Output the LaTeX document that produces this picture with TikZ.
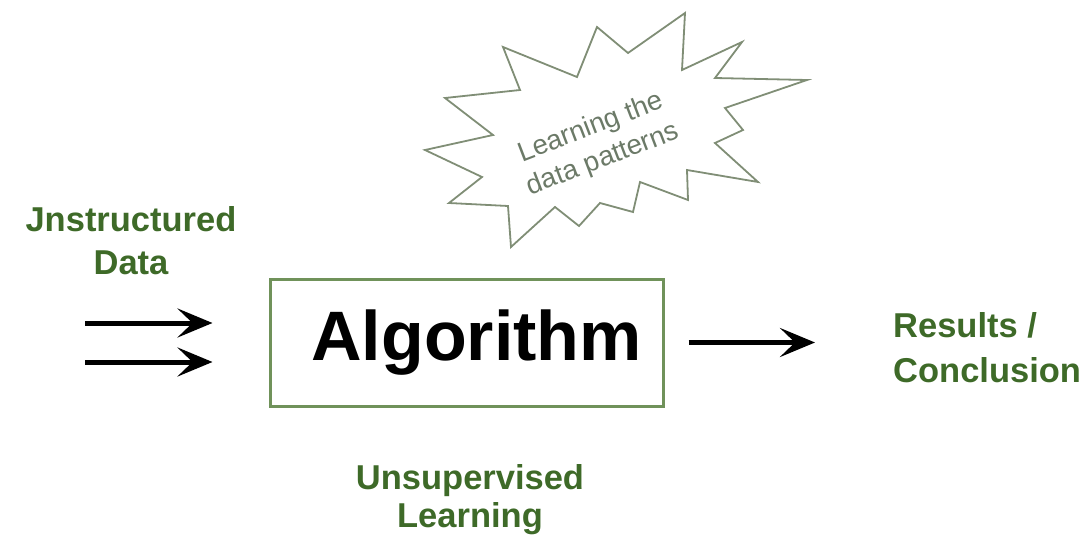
\documentclass[tikz,border=0pt]{standalone}
\usepackage{fontspec}
\setmainfont{Liberation Sans}
\usepackage{tikz}
\usetikzlibrary{positioning, arrows.meta}
\definecolor{labelgreen}{RGB}{62,106,40}
\definecolor{boxgreen}{RGB}{112,146,90}
\definecolor{burstgray}{RGB}{128,142,118}
\definecolor{notegray}{RGB}{108,122,104}
\tikzset{
>={Stealth[length=35pt, width=29pt, inset=15pt]}, % big swept arrow heads
flow/.style={->, line width=5pt, black}, % the black input and output arrows
algobox/.style={draw=boxgreen, line width=3pt, minimum width=393pt, minimum height=127pt, inner sep=0pt, font=\fontsize{70}{80}\selectfont\bfseries}, % the box round the algorithm
greenlabel/.style={text=labelgreen, inner sep=0pt, font=\fontsize{34.5}{43}\selectfont\bfseries}, % green bold captions
burst/.style={draw=burstgray, line width=1.8pt, line join=miter, fill=white}, % outline of the star burst
note/.style={text=notegray, inner sep=0pt, align=center, rotate=21, font=\fontsize{27.5}{34}\selectfont}, % text inside the burst
}

\begin{document}
\begin{tikzpicture}[x=1pt, y=-1pt]
    \useasboundingbox (0,0) rectangle (1087,543);
    \node[algobox] (algo) at (466.5,342.5) {\hspace{20pt}Algorithm};
    \node[greenlabel, align=center] (unstr) at (131,241) {Jnstructured\\Data};
    \node[greenlabel, align=left, anchor=west, font=\fontsize{34.5}{45}\selectfont\bfseries] (result) at (893,348) {Results /\\Conclusion};
    \node[greenlabel, align=center, font=\fontsize{34.5}{38}\selectfont\bfseries] (unsup) at (470,500) {Unsupervised\\Learning};
    \draw[burst] (503,47) -- (577,77) -- (597,27) -- (628,53) -- (685,13) -- (682,70)
        -- (742,42) -- (715,78) -- (807,80) -- (725,108) -- (743,130) -- (715,143)
        -- (758,182) -- (687,170) -- (688,200) -- (640,182) -- (633,212) -- (600,203)
        -- (579,226) -- (555,207) -- (511,247) -- (508,206) -- (449,203) -- (482,177)
        -- (425,150) -- (493,135) -- (445,98) -- (520,90) -- cycle;
    \node[note] (pattern) at (597,144) {Learning the\\data patterns};
    \coordinate (in1) at (85,323);
    \coordinate (in2) at (85,362);
    \draw[flow, shorten >=56pt] (in1) -- (algo.west |- in1);
    \draw[flow, shorten >=56pt] (in2) -- (algo.west |- in2);
    \draw[flow, shorten <=24pt, shorten >=78pt] (algo.east) -- (algo.east -| result.west);
\end{tikzpicture}
\end{document}
